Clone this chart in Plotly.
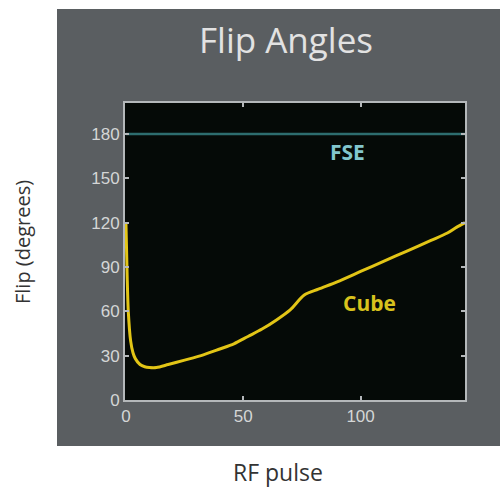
import plotly.graph_objects as go

# Data
rf_pulse = [0, 0.5, 1, 2, 3, 4, 6, 8, 10, 13, 18, 25, 32, 40, 46, 52, 58, 64, 70, 76,
            82, 90, 100, 110, 120, 130, 137, 141, 144.5]
cube_flip = [120, 85, 60, 40, 32, 28, 24, 22.5, 22, 22, 24, 27, 30, 34.5, 38, 43, 48, 54, 61, 71,
             75, 80, 87, 94, 101, 108, 113, 117, 120]
fse_x = [0, 144.5]
fse_flip = [180, 180]
x_ticks = [0, 50, 100]
y_ticks = [0, 30, 60, 90, 120, 150, 180]

W, H = 500, 488
L, R, T, B = 125, 35, 103, 88
pw, ph = W - L - R, H - T - B

def px(x):
    return (x - L) / pw

def py(y):
    return (H - B - y) / ph

fig = go.Figure()
fig.add_trace(go.Scatter(x=fse_x, y=fse_flip, mode="lines",
                         line=dict(color="#2d6d6e", width=2.5), showlegend=False, cliponaxis=False))
fig.add_trace(go.Scatter(x=rf_pulse, y=cube_flip, mode="lines", line_shape="spline",
                         line=dict(color="#e2c516", width=3, smoothing=0.8), showlegend=False))

fig.add_shape(type="rect", xref="paper", yref="paper", x0=px(57), x1=px(510), y0=py(446), y1=py(9),
              fillcolor="#5a5e61", line=dict(width=0), layer="below")
fig.add_shape(type="rect", xref="paper", yref="paper", x0=0, x1=1, y0=0, y1=1,
              fillcolor="#050a07", line=dict(width=0), layer="below")

fig.add_annotation(text="FSE", x=94.5, y=168, xref="x", yref="y", showarrow=False,
                   xanchor="center", yanchor="middle",
                   font=dict(family="Open Sans", size=21, color="#82c6cd", weight="bold"))
fig.add_annotation(text="Cube", x=103.8, y=65.7, xref="x", yref="y", showarrow=False,
                   xanchor="center", yanchor="middle",
                   font=dict(family="Open Sans", size=21, color="#d8c21d", weight="bold"))
fig.add_annotation(text="Flip Angles", x=px(286), y=py(40), xref="paper", yref="paper", showarrow=False,
                   xanchor="center", yanchor="middle",
                   font=dict(family="Open Sans", size=35, color="#e2e2e2"))
fig.add_annotation(text="Flip (degrees)", x=px(22), y=py(242), xref="paper", yref="paper", showarrow=False,
                   xanchor="center", yanchor="middle", textangle=-90,
                   font=dict(family="Open Sans", size=20, color="#333333"))
fig.add_annotation(text="RF pulse", x=px(278), y=py(472), xref="paper", yref="paper", showarrow=False,
                   xanchor="center", yanchor="middle",
                   font=dict(family="Open Sans", size=23, color="#333333"))

axis_common = dict(showgrid=False, zeroline=False, showline=True, linecolor="#b4b8ba", linewidth=2,
                   mirror="ticks", ticks="inside", ticklen=4, tickcolor="#b4b8ba", tickwidth=2,
                   tickfont=dict(family="Liberation Sans", size=17, color="#d4d6d6"))

fig.update_xaxes(range=[-0.4, 144.5], tickvals=x_ticks, **axis_common)
fig.update_yaxes(range=[0, 201], tickvals=y_ticks, **axis_common)

fig.update_layout(width=W, height=H, margin=dict(l=L, r=R, t=T, b=B),
                  paper_bgcolor="white", plot_bgcolor="#050a07")

fig.write_html("out.html", config={"displayModeBar": False},
               post_script="document.body.style.margin='0';document.body.style.overflow='hidden';"
                           "document.documentElement.style.overflow='hidden';")
